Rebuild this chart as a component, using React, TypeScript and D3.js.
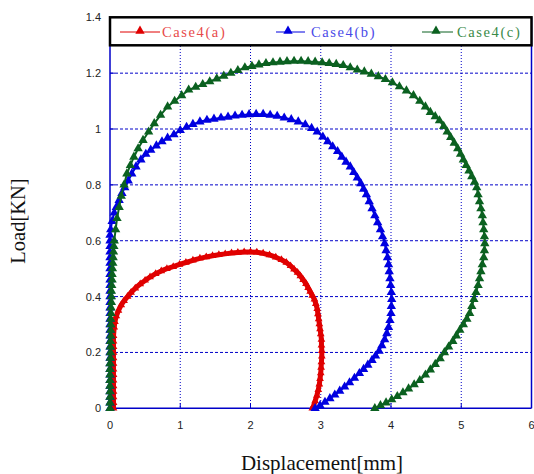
import React from 'react';
import * as d3 from 'd3';

type Pt = [number, number];

// Load–displacement curves
const caseA: Pt[] = [
  [0.05, 0], [0.05, 0.02], [0.05, 0.04], [0.05, 0.06], [0.05, 0.08], [0.05, 0.1], [0.05, 0.12],
  [0.05, 0.14], [0.05, 0.16], [0.05, 0.18], [0.05, 0.2], [0.05, 0.22], [0.05, 0.24], [0.05, 0.26],
  [0.06, 0.29], [0.07, 0.31], [0.09, 0.33], [0.12, 0.35], [0.16, 0.37], [0.2, 0.385], [0.25, 0.4],
  [0.3, 0.415], [0.36, 0.43], [0.43, 0.445], [0.5, 0.458], [0.57, 0.47], [0.65, 0.482], [0.73, 0.492],
  [0.81, 0.5], [0.9, 0.507], [0.99, 0.515], [1.08, 0.522], [1.18, 0.53], [1.28, 0.537], [1.37, 0.542],
  [1.46, 0.546], [1.55, 0.55], [1.64, 0.553], [1.73, 0.556], [1.82, 0.558], [1.91, 0.56], [2.0, 0.56],
  [2.09, 0.559], [2.18, 0.555], [2.27, 0.549], [2.36, 0.541], [2.44, 0.532], [2.51, 0.522],
  [2.57, 0.51], [2.62, 0.498], [2.67, 0.486], [2.71, 0.474], [2.75, 0.46], [2.79, 0.446],
  [2.82, 0.432], [2.85, 0.418], [2.88, 0.404], [2.91, 0.39], [2.93, 0.374], [2.95, 0.356],
  [2.96, 0.338], [2.97, 0.32], [2.98, 0.302], [2.99, 0.284], [3.0, 0.266], [3.01, 0.246],
  [3.01, 0.226], [3.015, 0.206], [3.015, 0.186], [3.01, 0.166], [3.005, 0.146], [3.0, 0.126],
  [2.99, 0.106], [2.98, 0.086], [2.965, 0.066], [2.945, 0.046], [2.92, 0.026], [2.9, 0.01], [2.88, 0],
];

const caseB: Pt[] = [
  [0, 0], [0, 0.02], [0, 0.04], [0, 0.06], [0, 0.08], [0, 0.1], [0, 0.12], [0, 0.14], [0, 0.16],
  [0, 0.18], [0, 0.2], [0, 0.22], [0, 0.24], [0, 0.26], [0, 0.28], [0, 0.3], [0, 0.32], [0, 0.34],
  [0, 0.36], [0, 0.38], [0, 0.4], [0, 0.42], [0, 0.44], [0, 0.46], [0, 0.48], [0, 0.5], [0, 0.52],
  [0, 0.54], [0, 0.56], [0, 0.58], [0, 0.6], [0, 0.62], [0.01, 0.64], [0.03, 0.67], [0.06, 0.7],
  [0.09, 0.72], [0.13, 0.745], [0.17, 0.77], [0.21, 0.79], [0.26, 0.815], [0.31, 0.84], [0.37, 0.865],
  [0.44, 0.89], [0.51, 0.91], [0.58, 0.925], [0.66, 0.94], [0.74, 0.955], [0.82, 0.968], [0.91, 0.98],
  [1.0, 0.995], [1.09, 1.007], [1.18, 1.017], [1.28, 1.026], [1.38, 1.032], [1.48, 1.036],
  [1.58, 1.04], [1.68, 1.043], [1.78, 1.047], [1.88, 1.05], [1.98, 1.052], [2.08, 1.053],
  [2.18, 1.053], [2.28, 1.05], [2.38, 1.046], [2.48, 1.04], [2.58, 1.034], [2.68, 1.026],
  [2.78, 1.016], [2.87, 1.003], [2.95, 0.99], [3.03, 0.972], [3.1, 0.955], [3.17, 0.937],
  [3.24, 0.92], [3.3, 0.9], [3.36, 0.882], [3.42, 0.865], [3.47, 0.845], [3.52, 0.825],
  [3.57, 0.805], [3.61, 0.785], [3.65, 0.765], [3.69, 0.74], [3.73, 0.715], [3.77, 0.69],
  [3.81, 0.665], [3.85, 0.64], [3.88, 0.615], [3.91, 0.59], [3.93, 0.565], [3.95, 0.54],
  [3.965, 0.515], [3.975, 0.49], [3.985, 0.465], [3.995, 0.44], [4.005, 0.415], [4.01, 0.39],
  [4.005, 0.365], [4.0, 0.34], [3.985, 0.315], [3.965, 0.29], [3.94, 0.268], [3.91, 0.246],
  [3.87, 0.225], [3.83, 0.205], [3.78, 0.188], [3.73, 0.172], [3.67, 0.155], [3.61, 0.14],
  [3.55, 0.125], [3.48, 0.108], [3.41, 0.092], [3.34, 0.077], [3.27, 0.062], [3.2, 0.048],
  [3.13, 0.035], [3.06, 0.022], [2.99, 0.01], [2.92, 0],
];

const caseC: Pt[] = [
  [0, 0], [0, 0.02], [0, 0.04], [0, 0.06], [0, 0.08], [0, 0.1], [0, 0.12], [0, 0.14], [0, 0.16],
  [0.005, 0.18], [0.005, 0.2], [0.005, 0.22], [0.005, 0.24], [0.01, 0.26], [0.01, 0.28], [0.01, 0.3],
  [0.01, 0.32], [0.015, 0.34], [0.015, 0.36], [0.02, 0.38], [0.02, 0.4], [0.02, 0.42], [0.025, 0.44],
  [0.03, 0.46], [0.03, 0.48], [0.035, 0.5], [0.04, 0.52], [0.045, 0.54], [0.05, 0.56], [0.055, 0.58],
  [0.06, 0.6], [0.08, 0.64], [0.1, 0.68], [0.13, 0.72], [0.16, 0.76], [0.2, 0.8], [0.24, 0.84],
  [0.29, 0.87], [0.34, 0.9], [0.4, 0.93], [0.47, 0.96], [0.55, 0.99], [0.63, 1.02], [0.72, 1.05],
  [0.82, 1.08], [0.92, 1.1], [1.02, 1.12], [1.12, 1.14], [1.22, 1.15], [1.32, 1.16], [1.42, 1.17],
  [1.52, 1.18], [1.62, 1.19], [1.72, 1.2], [1.82, 1.21], [1.92, 1.22], [2.02, 1.225], [2.12, 1.23],
  [2.22, 1.235], [2.32, 1.238], [2.42, 1.24], [2.52, 1.242], [2.62, 1.243], [2.72, 1.243],
  [2.82, 1.242], [2.92, 1.24], [3.02, 1.238], [3.12, 1.235], [3.22, 1.232], [3.32, 1.228],
  [3.42, 1.22], [3.52, 1.212], [3.62, 1.205], [3.72, 1.197], [3.82, 1.188], [3.92, 1.178],
  [4.02, 1.166], [4.12, 1.152], [4.22, 1.137], [4.32, 1.12], [4.41, 1.1], [4.49, 1.08],
  [4.56, 1.06], [4.63, 1.045], [4.69, 1.03], [4.75, 1.01], [4.8, 0.99], [4.85, 0.97], [4.9, 0.95],
  [4.95, 0.93], [4.99, 0.91], [5.03, 0.89], [5.07, 0.87], [5.11, 0.85], [5.15, 0.83], [5.19, 0.81],
  [5.22, 0.79], [5.24, 0.765], [5.26, 0.74], [5.28, 0.715], [5.3, 0.69], [5.31, 0.665], [5.32, 0.64],
  [5.33, 0.615], [5.335, 0.59], [5.33, 0.565], [5.32, 0.54], [5.3, 0.515], [5.28, 0.49],
  [5.26, 0.465], [5.24, 0.44], [5.21, 0.415], [5.18, 0.39], [5.15, 0.365], [5.12, 0.34],
  [5.08, 0.32], [5.03, 0.3], [4.98, 0.28], [4.93, 0.26], [4.88, 0.24], [4.82, 0.22], [4.76, 0.2],
  [4.7, 0.178], [4.63, 0.158], [4.56, 0.138], [4.49, 0.12], [4.41, 0.1], [4.33, 0.085],
  [4.25, 0.07], [4.17, 0.056], [4.09, 0.043], [4.01, 0.031], [3.93, 0.02], [3.85, 0.01], [3.77, 0],
];

const seriesNames = ['Case4(a)', 'Case4(b)', 'Case4(c)'];
const seriesColors = ['#e00000', '#0000e0', '#0b6120'];
const legendTextColors = ['#e84a4a', '#4a4ae8', '#3a8a48'];
const xTicks = [0, 1, 2, 3, 4, 5, 6];
const yTicks = [0, 0.2, 0.4, 0.6, 0.8, 1, 1.2, 1.4];

const W = 534;
const H = 474;
const left = 110, right = 531.5, top = 17.3, bottom = 408.3;

const App: React.FC = () => {
  const x = d3.scaleLinear().domain([0, 6]).range([left, right]);
  const y = d3.scaleLinear().domain([0, 1.4]).range([bottom, top]);
  const line = d3.line<Pt>().x(d => x(d[0])).y(d => y(d[1]));
  const bigTri = d3.symbol().type(d3.symbolTriangle).size(38)() as string;
  const smallTri = d3.symbol().type(d3.symbolTriangle).size(26)() as string;

  const data = [caseA, caseB, caseC];
  const gridColor = '#0000c8';

  // legend slots: line start/end, marker, text x
  const legendSlots = [
    { x1: 120, x2: 160, m: 140, tx: 162 },
    { x1: 276, x2: 305, m: 288, tx: 311 },
    { x1: 422, x2: 453, m: 436, tx: 457 },
  ];

  return (
    <svg width={W} height={H} style={{ position: 'absolute', left: 0, top: 0, background: '#fff' }}>
      {/* grid */}
      <g>
        {xTicks.filter(t => t > 0 && t < 6).map(t => (
          <line key={'gx' + t} x1={x(t)} x2={x(t)} y1={46} y2={bottom}
            stroke={gridColor} strokeWidth={1} strokeDasharray="1,2" />
        ))}
        {yTicks.filter(t => t > 0 && t < 1.4).map(t => (
          <line key={'gy' + t} x1={left} x2={right} y1={y(t)} y2={y(t)}
            stroke={gridColor} strokeWidth={1} strokeDasharray="3,2" />
        ))}
        {/* inward tick marks */}
        {xTicks.filter(t => t > 0 && t < 6).map(t => (
          <line key={'tx' + t} x1={x(t)} x2={x(t)} y1={bottom} y2={bottom - 5} stroke={gridColor} />
        ))}
        {yTicks.filter(t => t > 0 && t < 1.4).map(t => (
          <line key={'ty' + t} x1={left} x2={left + 5} y1={y(t)} y2={y(t)} stroke={gridColor} />
        ))}
      </g>
      {/* frame */}
      <line x1={left} x2={left} y1={top} y2={bottom} stroke={gridColor} strokeWidth={1.5} />
      <line x1={left} x2={right} y1={bottom} y2={bottom} stroke={gridColor} strokeWidth={1.5} />
      <line x1={right} x2={right} y1={top} y2={bottom} stroke={gridColor} strokeWidth={1.5} />

      {/* series */}
      {data.map((pts, i) => (
        <g key={'s' + i}>
          <path d={line(pts) || ''} fill="none" stroke={seriesColors[i]}
            strokeWidth={i === 0 ? 5 : 2} strokeLinejoin="round" />
          {pts.map((p, j) => (
            <path key={j} d={i === 0 ? smallTri : bigTri}
              transform={`translate(${x(p[0])},${y(p[1])})`} fill={seriesColors[i]} />
          ))}
        </g>
      ))}

      {/* tick labels */}
      <g fontFamily="'Liberation Sans', Arial, sans-serif" fontSize={11} fill="#222">
        {xTicks.map(t => (
          <text key={'lx' + t} x={x(t)} y={429} textAnchor="middle">{t}</text>
        ))}
        {yTicks.map(t => (
          <text key={'ly' + t} x={101} y={y(t) + 4} textAnchor="end">{d3.format('~g')(t)}</text>
        ))}
      </g>

      {/* axis titles */}
      <text x={322} y={470} textAnchor="middle" fontFamily="'Liberation Serif', 'Times New Roman', serif"
        fontSize={21} fill="#111">Displacement[mm]</text>
      <text transform="translate(25,221) rotate(-90)" textAnchor="middle"
        fontFamily="'Liberation Serif', 'Times New Roman', serif" fontSize={20.5} fill="#111">Load[KN]</text>

      {/* legend */}
      <rect x={left} y={top} width={right - left} height={28} fill="#fff" stroke="#000" strokeWidth={2.5} />
      {seriesNames.map((name, i) => {
        const s = legendSlots[i];
        return (
          <g key={'lg' + i}>
            <line x1={s.x1} x2={s.x2} y1={32} y2={32} stroke={seriesColors[i]} strokeWidth={1} />
            <path d={bigTri} transform={`translate(${s.m},31)`} fill={seriesColors[i]} />
            <text x={s.tx} y={37} fontFamily="'Liberation Serif', 'Times New Roman', serif"
              fontSize={14.5} letterSpacing={1.6} fill={legendTextColors[i]}>{name}</text>
          </g>
        );
      })}
    </svg>
  );
};

export default App;
